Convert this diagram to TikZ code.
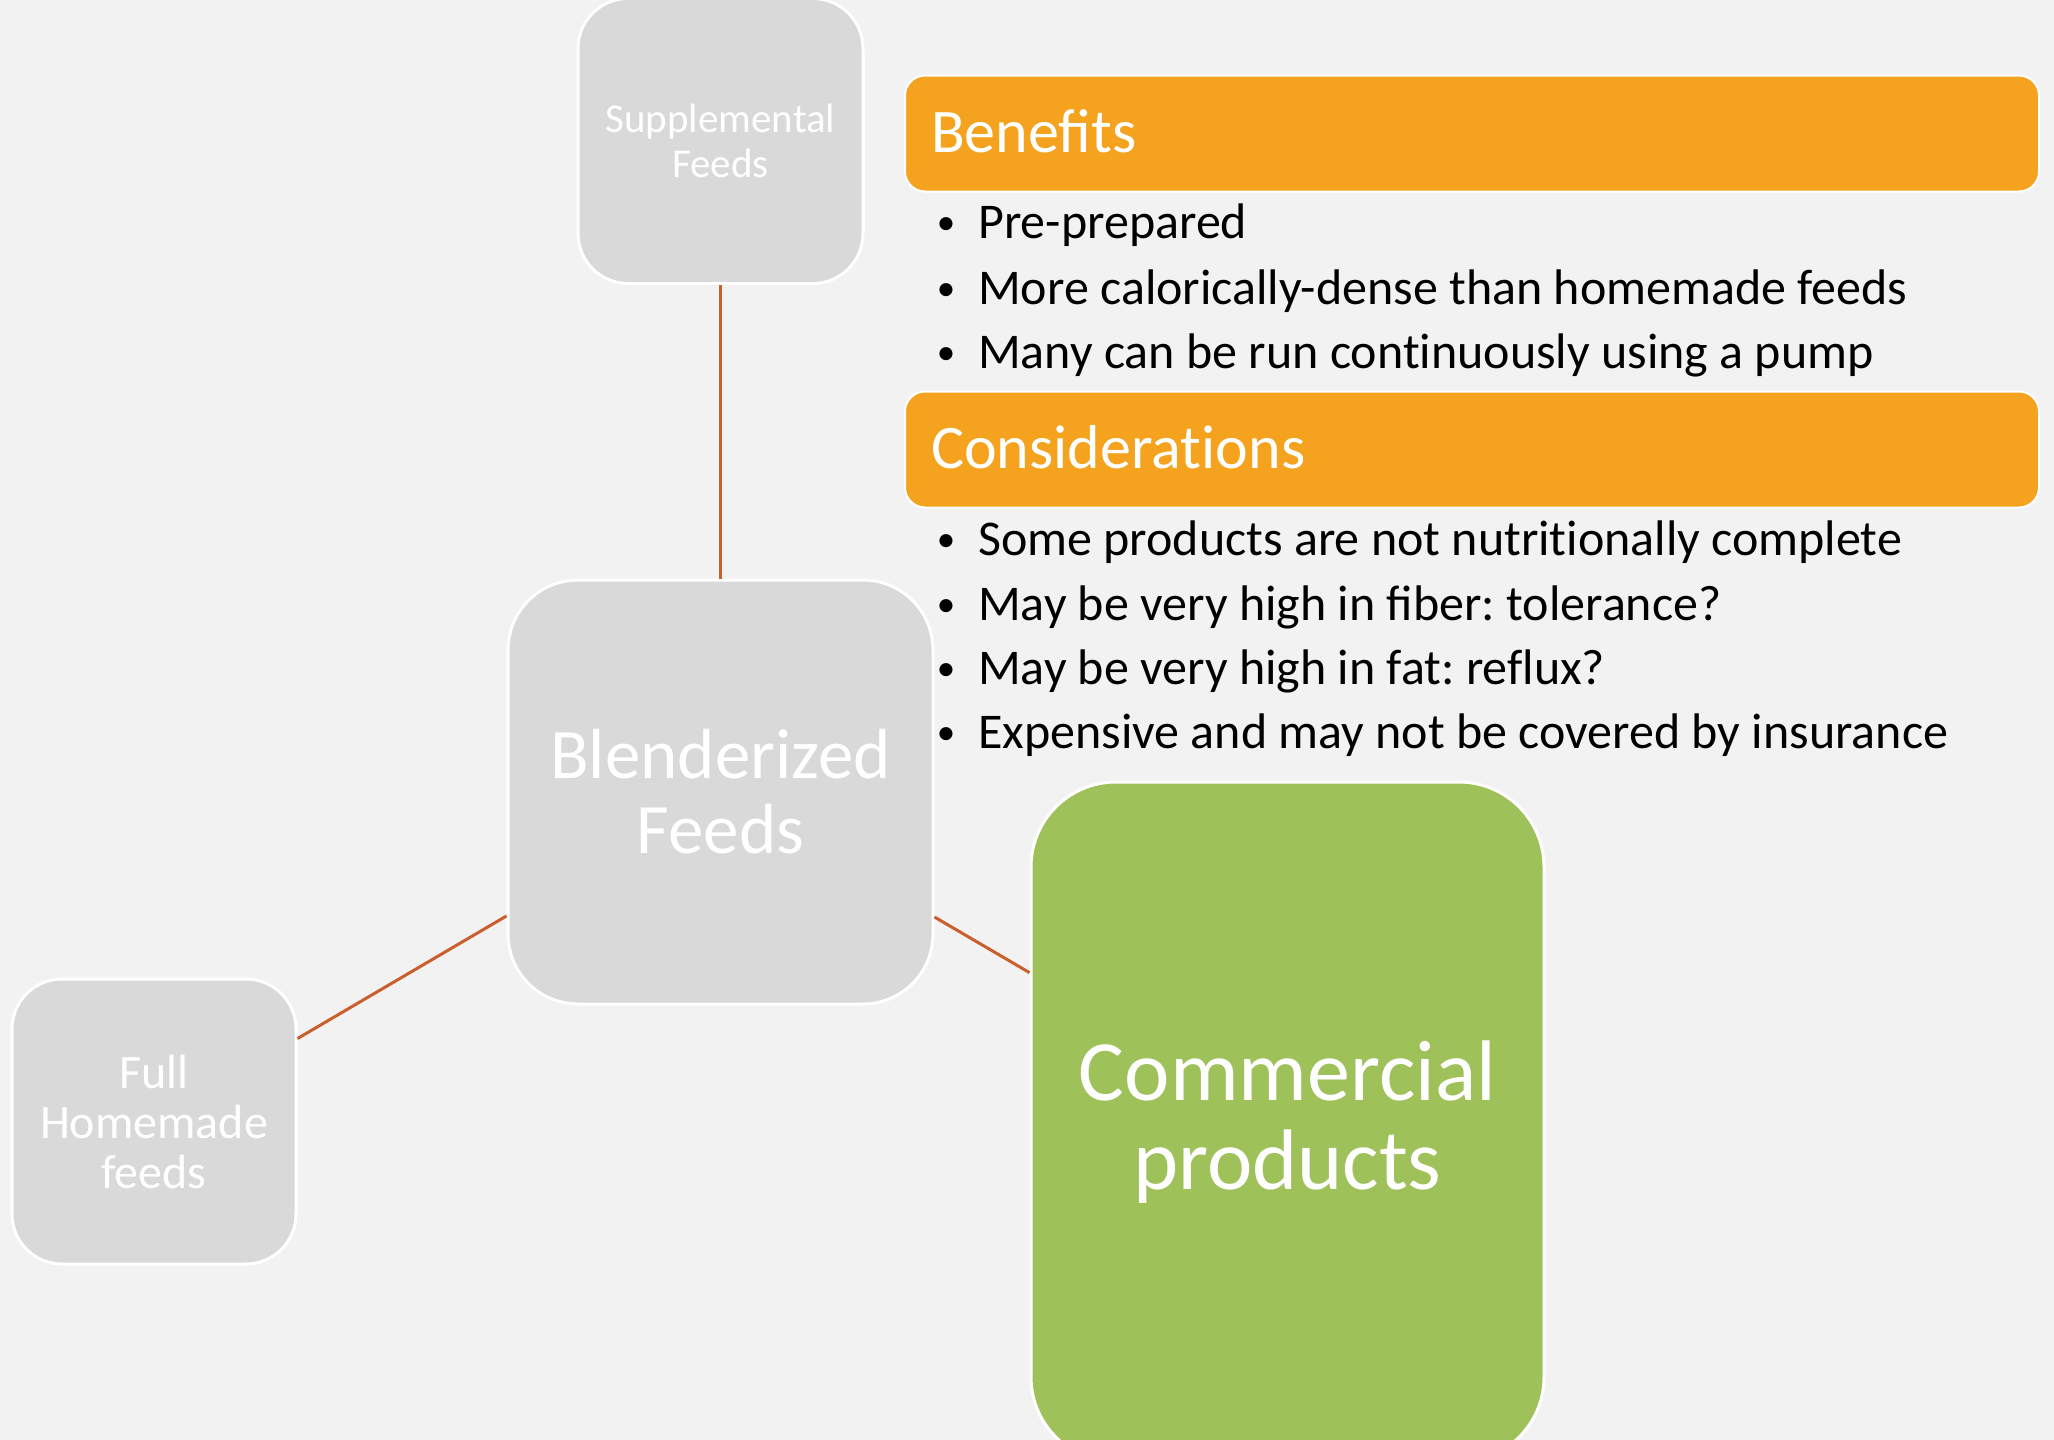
\documentclass[tikz,border=0pt]{standalone}
\usepackage{fontspec}
\setmainfont{Carlito}[Ligatures=NoCommon]
\frenchspacing
\definecolor{bg}{HTML}{F2F2F2}
\definecolor{boxgray}{HTML}{D9D9D9}
\definecolor{hdrorange}{HTML}{F5A31F}
\definecolor{boxgreen}{HTML}{9FC15A}
\definecolor{linkc}{RGB}{200,95,45}
\tikzset{
  graybox/.style={draw=white, line width=3pt, fill=boxgray, text=white, align=center, inner sep=0pt},
  greenbox/.style={draw=white, line width=3pt, fill=boxgreen, text=white, align=center, inner sep=0pt},
  hdr/.style={draw=white, line width=2pt, fill=hdrorange, rounded corners=20pt, minimum width=1134pt, minimum height=116pt, inner sep=0pt},
  hdrtext/.style={anchor=base west, inner sep=0pt, text=white, font=\fontsize{62}{70}\selectfont},
  bul/.style={anchor=base west, inner sep=0pt, text=black, font=\fontsize{50}{60}\selectfont}, 
  link/.style={draw=linkc, line width=3pt}
}
\newcommand{\bl}{\makebox[0pt][r]{\raisebox{4pt}{\fontsize{37}{37}\selectfont •}\hspace{23pt}}}
\begin{document}
\begin{tikzpicture}[x=1pt,y=-1pt]
\useasboundingbox (0,0) rectangle (2054,1440);
\clip (0,0) rectangle (2054,1440);
\fill[bg] (0,0) rectangle (2054,1440);

\node[graybox, rounded corners=50pt, minimum width=285pt, minimum height=285pt,
      font=\fontsize{41}{45}\selectfont] (sup) at (720.5,141) {Supplemental\\Feeds};
\node[graybox, rounded corners=70pt, minimum width=425pt, minimum height=424pt,
      font=\fontsize{71}{75}\selectfont] (blend) at (720.5,792) {Blenderized\\Feeds};
\node[graybox, rounded corners=50pt, minimum width=284pt, minimum height=285pt,
      font=\fontsize{48}{50}\selectfont] (full) at (154,1121.5) {Full\\Homemade\\feeds};
\node[greenbox, rounded corners=85pt, minimum width=513pt, minimum height=680pt,
      font=\fontsize{86}{89}\selectfont] (comm) at (1287.5,1122) {Commercial\\products};

\draw[link] (sup) -- (blend);
\draw[link] (blend) -- (full);
\draw[link] (blend) -- (comm);

\node[hdr] (benh) at (1472,133.5) {};
\node[hdrtext] (bent) at (931,152) {Beneﬁts};
\node[bul] (b1) at (978,238) {\bl Pre-prepared};
\node[bul] (b2) at (978,304) {\bl More calorically-dense than homemade feeds};
\node[bul] (b3) at (978,368) {\bl Many can be run continuously using a pump};

\node[hdr] (conh) at (1472,449.5) {};
\node[hdrtext] (cont) at (931,468) {Considerations};
\node[bul] (c1) at (978,555) {\bl Some products are not nutritionally complete};
\node[bul] (c2) at (978,620) {\bl May be very high in ﬁber: tolerance?};
\node[bul] (c3) at (978,684) {\bl May be very high in fat: reflux?};
\node[bul] (c4) at (978,748) {\bl Expensive and may not be covered by insurance};
\end{tikzpicture}
\end{document}
